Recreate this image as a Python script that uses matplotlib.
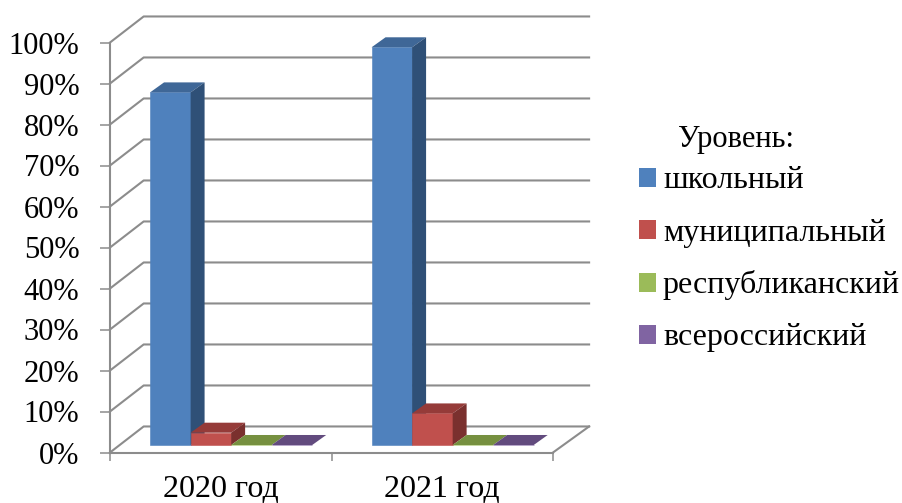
import matplotlib

matplotlib.use("Agg")
import matplotlib.pyplot as plt
from matplotlib.patches import Patch

plt.rcParams["font.family"] = ["Liberation Serif", "DejaVu Serif"]

YEARS = ["2020 год", "2021 год"]
LEVELS = ["школьный", "муниципальный", "республиканский", "всероссийский"]
VALUES = {
    "школьный": [86, 97],
    "муниципальный": [3, 7.7],
    "республиканский": [0, 0],
    "всероссийский": [0, 0],
}
Y_TICKS = list(range(0, 101, 10))

FRONT = ["#4F81BD", "#C0504D", "#9BBB59", "#8064A2"]
TOP = ["#3F6797", "#953B39", "#769040", "#624B7E"]
SIDE = ["#2F5077", "#7A302E", "#5E7335", "#4D3B63"]
GRID = "#8C8C8C"

# oblique depth of the fake 3d box, in data units
WALL_DX = 0.152
WALL_DY = 6.35
WALL_END = 2.163
BAR_START = 0.181
BAR_W = 0.183
BAR_BASE = 1.83
BAR_DX = 0.063
BAR_DY = 2.44

fig = plt.figure(figsize=(9.02, 5.03), dpi=100, facecolor="white")
ax = fig.add_axes([110 / 902, 1 - 452.5 / 503, 443 / 902, 410 / 503])
ax.set_xlim(0, 2)
ax.set_ylim(0, 100)

# back wall gridlines and the left wall diagonals
for y in Y_TICKS:
    ax.plot([0, WALL_DX, WALL_END], [y, y + WALL_DY, y + WALL_DY],
            color=GRID, lw=1.5, clip_on=False, zorder=1)
ax.plot([2, WALL_END], [0, WALL_DY], color=GRID, lw=1.5, clip_on=False, zorder=1)

for j, level in enumerate(LEVELS):
    for i, value in enumerate(VALUES[level]):
        x0 = i + BAR_START + j * BAR_W
        x1 = x0 + BAR_W
        y0 = BAR_BASE
        y1 = y0 + value
        z = 3 + i * 10 + j
        ax.bar(x0, value, BAR_W, bottom=y0, align="edge", color=FRONT[j], edgecolor=FRONT[j],
               lw=0.4, clip_on=False, zorder=z)
        ax.fill([x0, x0 + BAR_DX, x1 + BAR_DX, x1], [y1, y1 + BAR_DY, y1 + BAR_DY, y1],
                color=TOP[j], lw=0, clip_on=False, zorder=z)
        if value > 0:
            ax.fill([x1, x1 + BAR_DX, x1 + BAR_DX, x1], [y0, y0 + BAR_DY, y1 + BAR_DY, y1],
                    color=SIDE[j], lw=0, clip_on=False, zorder=z)

for name in ["top", "right"]:
    ax.spines[name].set_visible(False)
for name in ["left", "bottom"]:
    ax.spines[name].set_color(GRID)
    ax.spines[name].set_linewidth(1.5)
    ax.spines[name].set_zorder(2)

ax.set_yticks(Y_TICKS, [f"{y}%" for y in Y_TICKS])
ax.set_xticks([0, 1, 2], [])
ax.set_xticks([0.5, 1.5], YEARS, minor=True)
ax.tick_params(axis="y", length=7, width=1.1, color=GRID, labelsize=22, pad=15)
ax.tick_params(axis="x", which="major", length=6, width=1.1, color=GRID)
ax.tick_params(axis="x", which="minor", length=0, labelsize=23, pad=16.5)

handles = [Patch(facecolor=c, edgecolor="none") for c in FRONT]
fig.legend(handles, LEVELS, loc="upper left", bbox_to_anchor=(639 / 902, 1 - 166.5 / 503),
           bbox_transform=fig.transFigure, frameon=False, fontsize=23, borderpad=0, borderaxespad=0,
           handlelength=0.53, handleheight=0.53, handletextpad=0.22, labelspacing=0.72)
fig.text(678 / 902, 1 - 139 / 503, "Уровень:", fontsize=22, va="center", ha="left")

fig.savefig("out.png", dpi=100, facecolor="white")
